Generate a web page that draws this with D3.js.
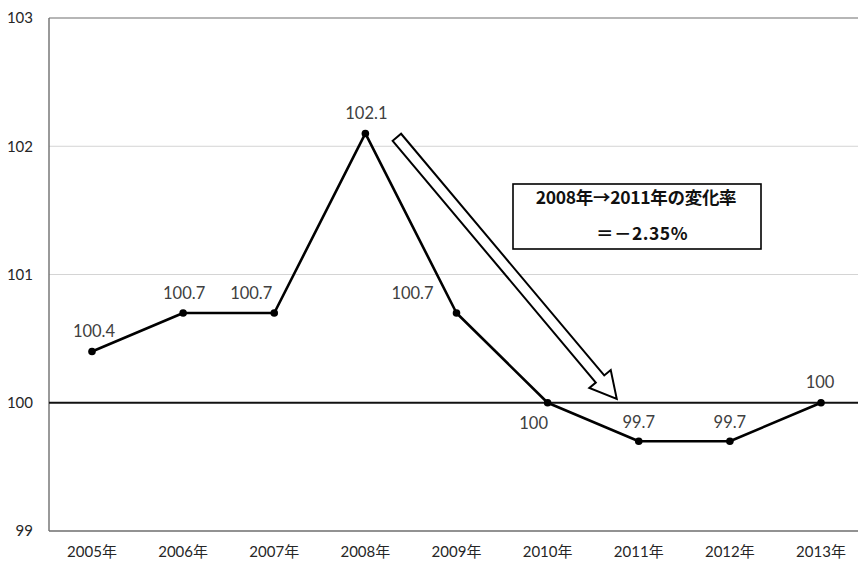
<!DOCTYPE html>
<html>
<head>
<meta charset="utf-8">
<script src="https://cdn.jsdelivr.net/npm/d3@7"></script>
<style>
  body { margin: 0; background: #fff; }
  svg { display: block; }
</style>
</head>
<body>
<div></div>
<script>
// chart data
const years = ["2005年", "2006年", "2007年", "2008年", "2009年", "2010年", "2011年", "2012年", "2013年"];
const values = [100.4, 100.7, 100.7, 102.1, 100.7, 100, 99.7, 99.7, 100];
const labels = ["100.4", "100.7", "100.7", "102.1", "100.7", "100", "99.7", "99.7", "100"];
const yTicks = [99, 100, 101, 102, 103];
const noteLines = ["2008年→2011年の変化率", "＝－2.35%"];

const width = 858, height = 562;
const margin = { top: 18, right: -12, bottom: 31, left: 49 };

const svg = d3.select("body div")
    .append("svg")
    .attr("width", width)
    .attr("height", height);

// scales
const x = d3.scalePoint()
    .domain(years)
    .range([margin.left + 43, width - margin.right - 49]);
const y = d3.scaleLinear()
    .domain([99, 103])
    .range([height - margin.bottom, margin.top]);

// light gridlines
svg.append("g")
    .selectAll("line")
    .data([101, 102])
    .join("line")
    .attr("x1", margin.left)
    .attr("x2", width)
    .attr("y1", d => y(d))
    .attr("y2", d => y(d))
    .attr("stroke", "#d4d4d4")
    .attr("stroke-width", 1);

// plot area frame (top and left, bottom axis)
svg.append("line")
    .attr("x1", margin.left).attr("x2", width)
    .attr("y1", y(103)).attr("y2", y(103))
    .attr("stroke", "#6e6e6e").attr("stroke-width", 1.2);
svg.append("line")
    .attr("x1", margin.left).attr("x2", margin.left)
    .attr("y1", y(103)).attr("y2", y(99))
    .attr("stroke", "#6e6e6e").attr("stroke-width", 1.4);
svg.append("line")
    .attr("x1", margin.left).attr("x2", width)
    .attr("y1", y(99)).attr("y2", y(99))
    .attr("stroke", "#6e6e6e").attr("stroke-width", 1.4);

// base line at 100
svg.append("line")
    .attr("x1", margin.left).attr("x2", width)
    .attr("y1", y(100)).attr("y2", y(100))
    .attr("stroke", "#111").attr("stroke-width", 2);

// y tick labels
svg.append("g")
    .selectAll("text")
    .data(yTicks)
    .join("text")
    .attr("x", 33)
    .attr("y", d => y(d))
    .attr("dy", "0.35em")
    .attr("text-anchor", "end")
    .style("font-family", "Lato, 'Noto Sans', sans-serif")
    .style("font-size", "15px")
    .style("fill", "#262626")
    .text(d => d);

// x tick labels
svg.append("g")
    .selectAll("text")
    .data(years)
    .join("text")
    .attr("x", d => x(d))
    .attr("y", 557)
    .attr("text-anchor", "middle")
    .style("font-family", "Lato, 'Noto Sans CJK JP', sans-serif")
    .style("font-size", "15px")
    .style("fill", "#262626")
    .text(d => d);

// series line
const line = d3.line()
    .x((d, i) => x(years[i]))
    .y(d => y(d));
svg.append("path")
    .datum(values)
    .attr("d", line)
    .attr("fill", "none")
    .attr("stroke", "#000")
    .attr("stroke-width", 2.6)
    .attr("stroke-linejoin", "round");

// markers
svg.append("g")
    .selectAll("circle")
    .data(values)
    .join("circle")
    .attr("cx", (d, i) => x(years[i]))
    .attr("cy", d => y(d))
    .attr("r", 3.8)
    .attr("fill", "#000");

// data labels (offsets relative to each point)
const labelOffsets = [[2, -20], [1, -20], [-23, -20], [1, -20], [-44, -20], [-14, 20], [0, -19], [0, -19], [-1, -21]];
svg.append("g")
    .selectAll("text")
    .data(values)
    .join("text")
    .attr("x", (d, i) => x(years[i]) + labelOffsets[i][0])
    .attr("y", (d, i) => y(d) + labelOffsets[i][1])
    .attr("dy", "0.35em")
    .attr("text-anchor", "middle")
    .style("font-family", "Lato, 'Noto Sans', sans-serif")
    .style("font-size", "16.5px")
    .style("fill", "#404040")
    .text((d, i) => labels[i]);

// hollow block arrow from 2008 towards 2011
const tail = [x("2008年") + 31.5, y(102.07)];
const tip = [x("2011年") - 22, y(100.03)];
const dx = tip[0] - tail[0], dy = tip[1] - tail[1];
const len = Math.hypot(dx, dy);
const ux = dx / len, uy = dy / len;      // along arrow
const px = -uy, py = ux;                  // perpendicular
const shaftHalf = 5.5, headHalf = 14, headLen = 26;
const pt = (a, b) => [tail[0] + ux * a + px * b, tail[1] + uy * a + py * b];
const arrowPts = [
    pt(0, -shaftHalf), pt(len - headLen, -shaftHalf), pt(len - headLen, -headHalf),
    pt(len, 0),
    pt(len - headLen, headHalf), pt(len - headLen, shaftHalf), pt(0, shaftHalf)
];
svg.append("path")
    .attr("d", d3.line()(arrowPts) + "Z")
    .attr("fill", "#fff")
    .attr("stroke", "#000")
    .attr("stroke-width", 2)
    .attr("stroke-linejoin", "miter");

// annotation box
const box = svg.append("g");
box.append("rect")
    .attr("x", 513).attr("y", 184)
    .attr("width", 248).attr("height", 65)
    .attr("fill", "#fff")
    .attr("stroke", "#000")
    .attr("stroke-width", 1.6);
box.selectAll("text")
    .data(noteLines)
    .join("text")
    .attr("x", (d, i) => i === 0 ? 636 : 642)
    .attr("y", (d, i) => 198 + i * 36)
    .attr("dy", "0.35em")
    .attr("text-anchor", "middle")
    .style("font-family", "'Noto Sans CJK JP', sans-serif")
    .style("font-weight", "bold")
    .style("font-size", "17.5px")
    .style("letter-spacing", (d, i) => i === 0 ? "-0.3px" : "0.5px")
    .style("fill", "#111")
    .text(d => d);
</script>
</body>
</html>
